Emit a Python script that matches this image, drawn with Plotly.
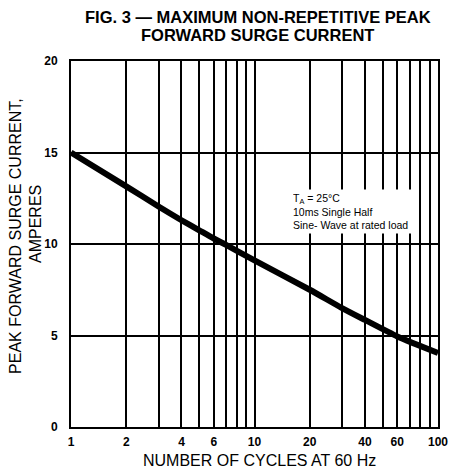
import plotly.graph_objects as go

# Data
cycles = [1, 2, 3, 4, 5, 6, 7, 10, 20, 30, 40, 60, 100]
current = [15.0, 13.15, 12.05, 11.3, 10.75, 10.3, 9.95, 9.1, 7.5, 6.5, 5.85, 4.95, 4.05]

x_grid = [1, 2, 3, 4, 5, 6, 7, 8, 9, 10, 20, 30, 40, 50, 60, 70, 80, 90, 100]
x_labels = ["1", "2", "", "4", "", "6", "", "", "", "10", "20", "", "40", "", "60", "", "", "", "100"]
y_ticks = [0, 5, 10, 15, 20]
y_labels = ["0", "5", "10", "15", "20"]

title_lines = ["FIG. 3 — MAXIMUM NON-REPETITIVE PEAK", "FORWARD SURGE CURRENT"]
y_title_lines = ["PEAK FORWARD SURGE CURRENT,", "AMPERES"]
x_title = "NUMBER OF CYCLES AT 60 Hz"
note = "T<sub>A</sub> = 25°C<br>10ms Single Half<br>Sine- Wave at rated load"

FONT = "Liberation Sans, Arial, sans-serif"

fig = go.Figure()
fig.add_trace(go.Scatter(
    x=cycles, y=current, mode="lines",
    line=dict(color="black", width=6, shape="spline", smoothing=0.6),
    showlegend=False, hoverinfo="skip",
))

fig.update_layout(
    width=450, height=475,
    margin=dict(l=71, r=12, t=61, b=48),
    paper_bgcolor="white", plot_bgcolor="white",
    font=dict(family=FONT, color="black"),
)

fig.update_xaxes(
    type="log", range=[0, 2], automargin=False,
    tickmode="array", tickvals=x_grid, ticktext=x_labels,
    tickfont=dict(family=FONT, size=12, color="black", weight="bold"),
    showgrid=True, gridcolor="black", gridwidth=2,
    showline=True, linecolor="black", linewidth=2, mirror=True,
    ticks="", ticklabelstandoff=3, ticklabeloverflow="allow",
    zeroline=False,
)
fig.update_yaxes(
    range=[0, 20], automargin=False,
    tickmode="array", tickvals=y_ticks, ticktext=y_labels,
    tickfont=dict(family=FONT, size=12, color="black", weight="bold"),
    showgrid=True, gridcolor="black", gridwidth=2,
    showline=True, linecolor="black", linewidth=2, mirror=True,
    ticks="", ticklabelstandoff=9,
    zeroline=False,
)

# Title (two lines, tight spacing)
for txt, yp in zip(title_lines, [1.1202, 1.0715]):
    fig.add_annotation(
        xref="paper", yref="paper", x=0.5095, y=yp,
        xanchor="center", yanchor="middle", showarrow=False,
        text="<b>" + txt + "</b>",
        font=dict(family=FONT, size=16.5, color="black"),
    )

# Y axis title (two rotated lines)
for txt, xp, yp in zip(y_title_lines, [-0.150, -0.095], [0.522, 0.555]):
    fig.add_annotation(
        xref="paper", yref="paper", x=xp, y=yp,
        xanchor="center", yanchor="middle", showarrow=False,
        textangle=-90, text=txt,
        font=dict(family=FONT, size=16, color="black"),
    )

# X axis title
fig.add_annotation(
    xref="paper", yref="paper", x=0.5136, y=-0.0902,
    xanchor="center", yanchor="middle", showarrow=False,
    text=x_title, font=dict(family=FONT, size=16, color="black"),
)

# Condition note with white background over the grid
fig.add_annotation(
    xref="paper", yref="paper",
    x=0.598, y=0.650, xanchor="left", yanchor="top",
    text=note, showarrow=False, align="left",
    bgcolor="white", borderpad=2, width=118,
    font=dict(family=FONT, size=10.5, color="black"),
)

fig.write_html(
    "out.html",
    config={"displayModeBar": False},
    post_script="document.body.style.margin='0';document.body.style.overflow='hidden';",
)
